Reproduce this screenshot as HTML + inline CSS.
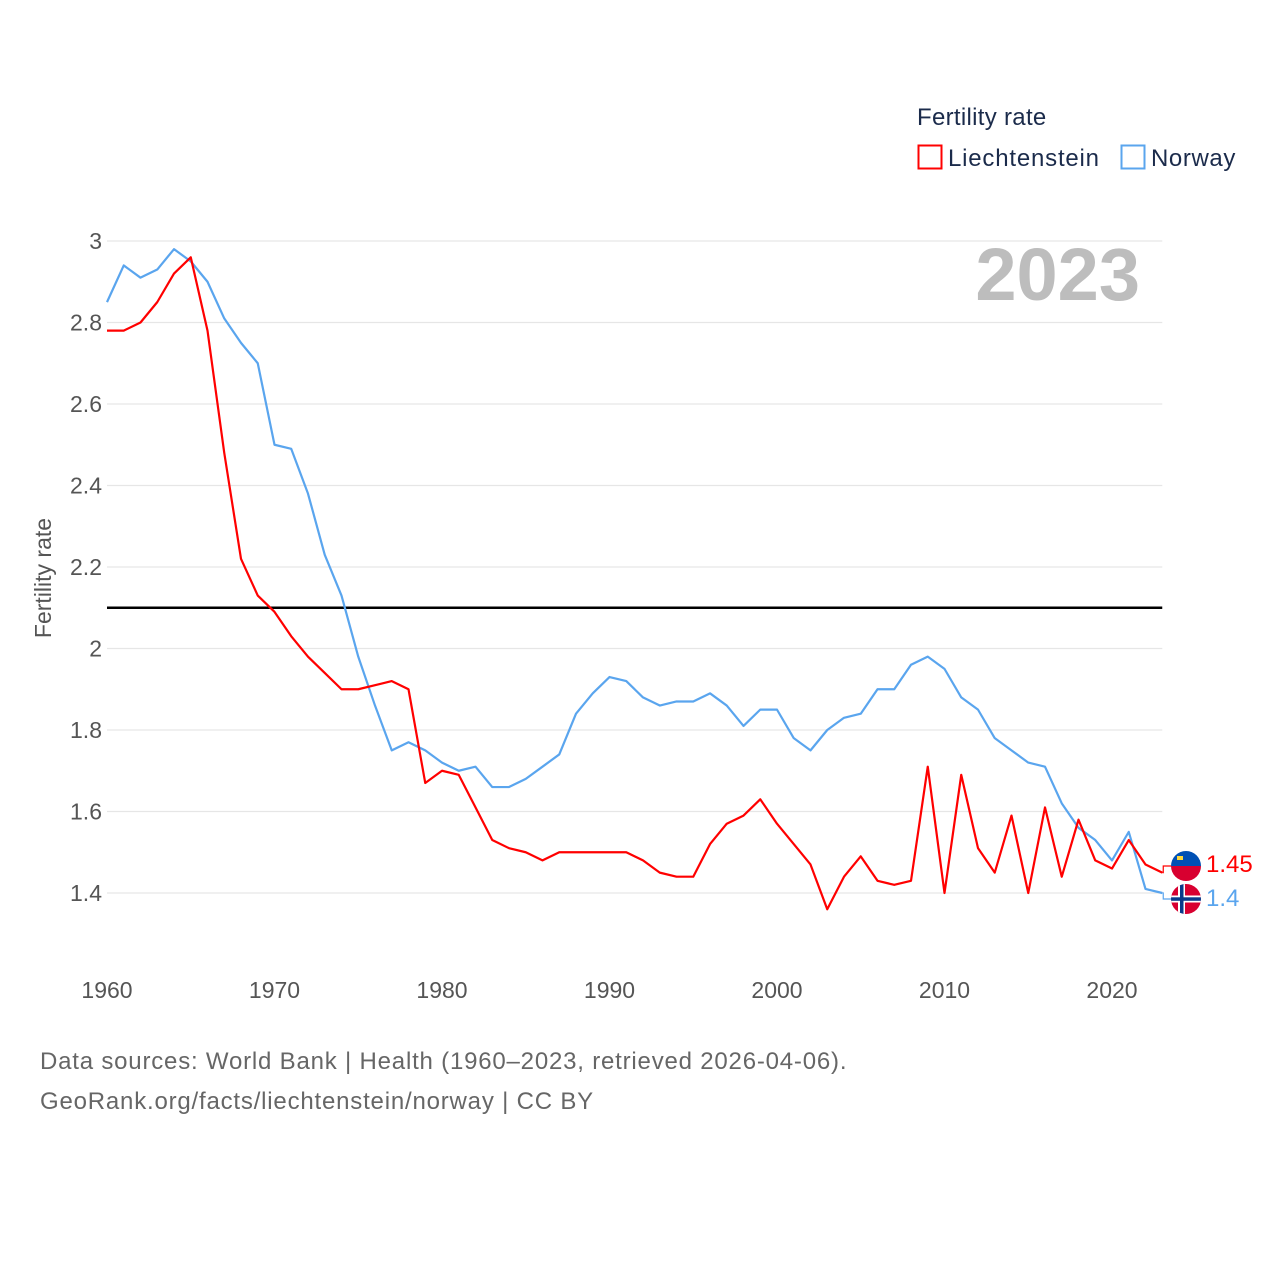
<!DOCTYPE html>
<html><head><meta charset="utf-8"><style>
body{margin:0;background:#fff;}
svg text{font-family:"Liberation Sans",sans-serif;}
</style></head><body>
<svg id="chart" width="1280" height="1280" viewBox="0 0 1280 1280" xmlns="http://www.w3.org/2000/svg">
<g id="grid"></g>
<g id="yticks"></g>
<g id="xticks"></g>
<text transform="translate(51,578) rotate(-90)" text-anchor="middle" font-size="23" fill="#555">Fertility rate</text>
<text x="1140" y="300" text-anchor="end" font-size="74" font-weight="bold" fill="#bdbdbd">2023</text>
<line id="refline" stroke="#000" stroke-width="2.5"/>
<g id="series"></g>
<g>
<text x="917" y="125" font-size="24" fill="#1b2b4b" letter-spacing="0.3">Fertility rate</text>
<rect x="918.5" y="145.5" width="23" height="23" fill="none" stroke="#f00" stroke-width="2"/>
<text x="948" y="166" font-size="24" fill="#1b2b4b" letter-spacing="0.8">Liechtenstein</text>
<rect x="1121.5" y="145.5" width="23" height="23" fill="none" stroke="#5aa5ee" stroke-width="2"/>
<text x="1151" y="166" font-size="24" fill="#1b2b4b" letter-spacing="0.6">Norway</text>
</g>
<g>
<g>
<clipPath id="c1"><circle cx="1186" cy="866" r="15"/></clipPath>
<g clip-path="url(#c1)"><rect x="1171" y="851" width="30" height="15" fill="#0050b4"/><rect x="1171" y="866" width="30" height="15" fill="#d80030"/><rect x="1177" y="856" width="6" height="4" fill="#ffd83d"/></g>
</g>
<text x="1206" y="872" font-size="24" fill="#f00">1.45</text>
<g>
<clipPath id="c2"><circle cx="1186" cy="899" r="15"/></clipPath>
<g clip-path="url(#c2)"><rect x="1171" y="884" width="30" height="30" fill="#d80030"/><rect x="1178" y="884" width="7" height="30" fill="#fff"/><rect x="1171" y="895.5" width="30" height="7" fill="#fff"/><rect x="1180" y="884" width="3.5" height="30" fill="#0a3a8a"/><rect x="1171" y="897.3" width="30" height="3.5" fill="#0a3a8a"/></g>
</g>
<text x="1206" y="906" font-size="24" fill="#5aa5ee">1.4</text>
</g>
<text x="40" y="1069" font-size="24" fill="#666" letter-spacing="0.8">Data sources: World Bank | Health (1960–2023, retrieved 2026-04-06).</text>
<text x="40" y="1109" font-size="24" fill="#666" letter-spacing="0.8">GeoRank.org/facts/liechtenstein/norway | CC BY</text>
</svg>
<script>
const years=[];for(let y=1960;y<=2023;y++)years.push(y);
const liechtenstein=[2.78,2.78,2.80,2.85,2.92,2.96,2.78,2.48,2.22,2.13,2.09,2.03,1.98,1.94,1.90,1.90,1.91,1.92,1.90,1.67,1.70,1.69,1.61,1.53,1.51,1.50,1.48,1.50,1.50,1.50,1.50,1.50,1.48,1.45,1.44,1.44,1.52,1.57,1.59,1.63,1.57,1.52,1.47,1.36,1.44,1.49,1.43,1.42,1.43,1.71,1.40,1.69,1.51,1.45,1.59,1.40,1.61,1.44,1.58,1.48,1.46,1.53,1.47,1.45];
const norway=[2.85,2.94,2.91,2.93,2.98,2.95,2.90,2.81,2.75,2.70,2.50,2.49,2.38,2.23,2.13,1.98,1.86,1.75,1.77,1.75,1.72,1.70,1.71,1.66,1.66,1.68,1.71,1.74,1.84,1.89,1.93,1.92,1.88,1.86,1.87,1.87,1.89,1.86,1.81,1.85,1.85,1.78,1.75,1.80,1.83,1.84,1.90,1.90,1.96,1.98,1.95,1.88,1.85,1.78,1.75,1.72,1.71,1.62,1.56,1.53,1.48,1.55,1.41,1.40];
const yTicks=[1.4,1.6,1.8,2,2.2,2.4,2.6,2.8,3];
const xTicks=[1960,1970,1980,1990,2000,2010,2020];
const replacement=2.1;
const NS="http://www.w3.org/2000/svg";
const X=y=>107+(y-1960)*16.75;
const Y=v=>241+(3-v)*407.5;
const xEnd=X(2023);
const grid=document.getElementById('grid'),yt=document.getElementById('yticks'),xt=document.getElementById('xticks');
yTicks.forEach(v=>{
 const l=document.createElementNS(NS,'line');
 
 
 l.setAttribute('x1',107);l.setAttribute('x2',xEnd);l.setAttribute('y1',Y(v));l.setAttribute('y2',Y(v));
 l.setAttribute('stroke','#e6e6e6');l.setAttribute('stroke-width','1.2');grid.appendChild(l);
 const t=document.createElementNS(NS,'text');
 
 
 t.setAttribute('x',102);t.setAttribute('y',Y(v)+8);t.setAttribute('text-anchor','end');
 t.setAttribute('font-size','23');t.setAttribute('fill','#555');t.textContent=String(v);yt.appendChild(t);
});
xTicks.forEach(v=>{
 const t=document.createElementNS(NS,'text');
 
 
 t.setAttribute('x',X(v));t.setAttribute('y',998);t.setAttribute('text-anchor','middle');
 t.setAttribute('font-size','23');t.setAttribute('fill','#555');t.textContent=String(v);xt.appendChild(t);
});
const rl=document.getElementById('refline');
rl.setAttribute('x1',107);rl.setAttribute('x2',xEnd);rl.setAttribute('y1',Y(replacement));rl.setAttribute('y2',Y(replacement));
const sg=document.getElementById('series');
function line(vals,color,name){
 const p=document.createElementNS(NS,'polyline');
 
 
 p.setAttribute('points',vals.map((v,i)=>X(years[i])+','+Y(v)).join(' '));
 p.setAttribute('fill','none');p.setAttribute('stroke',color);p.setAttribute('stroke-width','2.2');p.setAttribute('stroke-linejoin','round');
 sg.appendChild(p);
}
line(norway,'#5aa5ee','norway-line');
line(liechtenstein,'#f00','liechtenstein-line');
function conn(v,ty,color,name){
 const p=document.createElementNS(NS,'polyline');
 
 
 p.setAttribute('points',xEnd+','+Y(v)+' '+(xEnd+1)+','+Y(v)+' '+(xEnd+1)+','+ty+' '+(xEnd+9)+','+ty);
 p.setAttribute('fill','none');p.setAttribute('stroke',color);p.setAttribute('stroke-width','1.2');sg.appendChild(p);
}
conn(liechtenstein[liechtenstein.length-1],866,'#f00','liechtenstein-connector');
conn(norway[norway.length-1],899,'#5aa5ee','norway-connector');
</script>
</body></html>
